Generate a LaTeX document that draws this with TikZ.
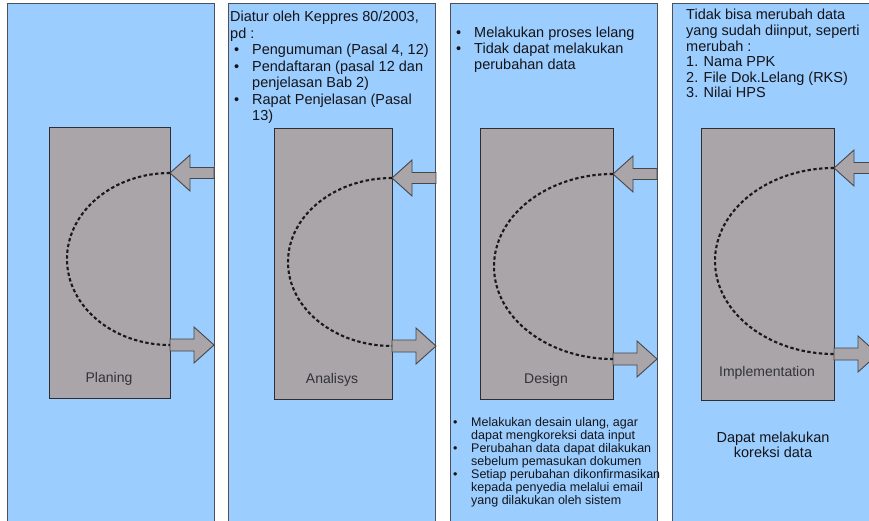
\documentclass[tikz,border=0pt]{standalone}
\usepackage{fontspec}
\setmainfont{Liberation Sans}
\definecolor{panelblue}{RGB}{155,205,255}
\definecolor{panelline}{RGB}{75,80,90}
\definecolor{boxgray}{RGB}{169,165,169}
\definecolor{boxline}{RGB}{45,45,50}
\definecolor{arrowline}{RGB}{70,70,75}
\definecolor{notetext}{RGB}{20,20,25}
\definecolor{labeltext}{RGB}{50,50,55}
% bullet set in a box of width #1, shifted right by #2
\newcommand\bitem[2]{\makebox[#1][l]{\hspace*{#2}\textbullet}}
% block arrow pointing left: tip x, centre y, back x
\newcommand\inarrow[3]{%
  \draw[blockarrow] (#1,#2) -- (#1+20,#2-18) -- (#1+20,#2-5.5) -- (#3,#2-5.5)
    -- (#3,#2+5.5) -- (#1+20,#2+5.5) -- (#1+20,#2+18) -- cycle;}
% block arrow pointing right: back x, centre y, tip x
\newcommand\outarrow[3]{%
  \draw[blockarrow] (#1,#2-6) -- (#3-20,#2-6) -- (#3-20,#2-18) -- (#3,#2)
    -- (#3-20,#2+18) -- (#3-20,#2+6) -- (#1,#2+6) -- cycle;}
\begin{document}
\begin{tikzpicture}[x=1pt,y=-1pt,
  panel/.style={draw=panelline, fill=panelblue, line width=1.3pt, inner sep=0pt,
    anchor=north west, minimum width=207pt, minimum height=540pt},
  stagebox/.style={draw=boxline, fill=boxgray, line width=1pt, inner sep=0pt,
    anchor=north west},
  blockarrow/.style={draw=arrowline, fill=boxgray, line width=0.9pt, line join=miter},
  loopline/.style={dash pattern=on 3.4pt off 2.4pt, line width=2.1pt, draw=black!90},
  stagelabel/.style={font=\fontsize{14}{16}\selectfont, text=labeltext,
    anchor=base, inner sep=0pt},
  note/.style={anchor=base west, inner sep=0pt, text=notetext}
]
\useasboundingbox (0,0) rectangle (869,521);
\clip (0,0) rectangle (869,521);
\fill[white] (0,0) rectangle (869,521);

% the four phase panels
\node[panel] (p1) at (7,3) {};
\node[panel] (p2) at (228,3) {};
\node[panel] (p3) at (450,3) {};
\node[panel] (p4) at (672,3) {};

% phase boxes
\node[stagebox, minimum width=121pt, minimum height=271pt] (b1) at (49,127) {};
\node[stagebox, minimum width=118pt, minimum height=271pt] (b2) at (274,128) {};
\node[stagebox, minimum width=133pt, minimum height=271pt] (b3) at (480,128) {};
\node[stagebox, minimum width=133pt, minimum height=272pt] (b4) at (701,128) {};

% incoming and outgoing block arrows
\inarrow{170}{173}{214}
\outarrow{170}{345}{214}
\inarrow{392}{178}{436}
\outarrow{392}{346}{436}
\inarrow{613}{174}{657}
\outarrow{613}{359}{657}
\inarrow{834}{168}{879}
\outarrow{834}{354}{878}

% feedback loops inside each box
\coordinate (in1) at (170,173);
\coordinate (in2) at (392,178);
\coordinate (in3) at (613,174);
\coordinate (in4) at (834,168);
\draw[loopline] (in1) arc[start angle=90, end angle=270, x radius=103pt, y radius=86pt];
\draw[loopline] (in2) arc[start angle=90, end angle=270, x radius=104pt, y radius=84pt];
\draw[loopline] (in3) arc[start angle=90, end angle=270, x radius=119pt, y radius=92.5pt];
\draw[loopline] (in4) arc[start angle=90, end angle=270, x radius=119pt, y radius=93pt];

% phase names
\node[stagelabel] (l1) at (109,382) {Planing};
\node[stagelabel] (l2) at (332,383) {Analisys};
\node[stagelabel] (l3) at (546,383) {Design};
\node[stagelabel] (l4) at (767,376) {Implementation};

% notes
\node[note] (n2) at (230,22) {\parbox[t]{220pt}{\fontsize{14.5}{16.5}\selectfont
  Diatur oleh Keppres 80/2003,\\
  pd :\\
  \bitem{22pt}{4pt}Pengumuman (Pasal 4, 12)\\
  \bitem{22pt}{4pt}Pendaftaran (pasal 12 dan\\
  \hspace*{22pt}penjelasan Bab 2)\\
  \bitem{22pt}{4pt}Rapat Penjelasan (Pasal\\
  \hspace*{22pt}13)}};

\node[note] (n3) at (451,38) {\parbox[t]{220pt}{\fontsize{14.5}{16}\selectfont
  \bitem{23pt}{5pt}Melakukan proses lelang\\
  \bitem{23pt}{5pt}Tidak dapat melakukan\\
  \hspace*{23pt}perubahan data}};

\node[note] (n3b) at (450,426) {\parbox[t]{220pt}{\fontsize{12.5}{13}\selectfont
  \bitem{21pt}{3pt}Melakukan desain ulang, agar\\
  \hspace*{21pt}dapat mengkoreksi data input\\
  \bitem{21pt}{3pt}Perubahan data dapat dilakukan\\
  \hspace*{21pt}sebelum pemasukan dokumen\\
  \bitem{21pt}{3pt}Setiap perubahan dikonfirmasikan\\
  \hspace*{21pt}kepada penyedia melalui email\\
  \hspace*{21pt}yang dilakukan oleh sistem}};

\node[note] (n4) at (686,20) {\parbox[t]{220pt}{\fontsize{14.5}{15.6}\selectfont
  Tidak bisa merubah data\\
  yang sudah diinput, seperti\\
  merubah :\\
  1. Nama PPK\\
  2. File Dok.Lelang (RKS)\\
  3. Nilai HPS}};

\node[anchor=base, inner sep=0pt, text=notetext] (n4b) at (773,442)
  {\parbox[t]{150pt}{\centering\fontsize{14.5}{15}\selectfont
  Dapat melakukan\\ koreksi data}};
\end{tikzpicture}
\end{document}
